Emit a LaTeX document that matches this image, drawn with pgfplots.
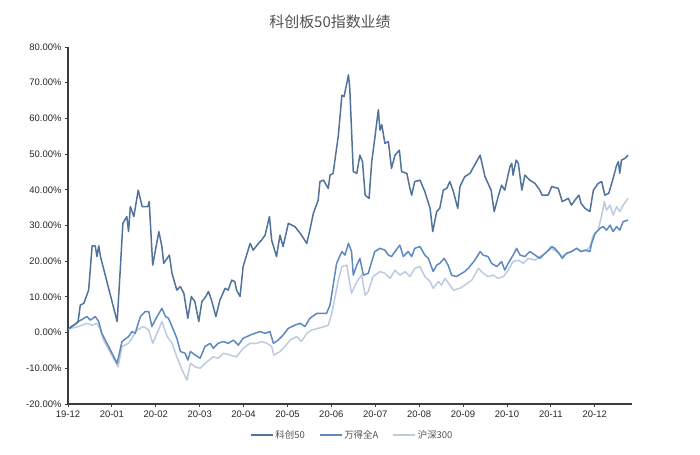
\documentclass[border=0pt]{standalone}
\usepackage{pgfplots}
\pgfplotsset{compat=1.18}
\usepackage{fontspec}
\setmainfont{Liberation Sans}
\newfontfamily\cjk{Noto Sans CJK SC}
\definecolor{kc}{HTML}{51729A}
\definecolor{wd}{HTML}{5D89BE}
\definecolor{hs}{HTML}{BCCBDF}
\definecolor{axc}{HTML}{3C3C3C}
\definecolor{txt}{HTML}{505050}
\begin{document}
\begin{tikzpicture}
\path[use as bounding box] (0,0) rectangle (700bp,455bp);
\node[font=\cjk\fontsize{15}{18}\selectfont, text=txt] at (330bp,433bp) {科创板50指数业绩};
\begin{axis}[
  at={(68bp,51bp)}, anchor=south west,
  scale only axis, width=564bp, height=357bp,
  xmin=0, xmax=12.85, ymin=-20, ymax=80,
  axis x line*=bottom, axis y line*=left,
  axis line style={line width=1.6bp, color=axc},
  xtick={0,1,2,3,4,5,6,7,8,9,10,11,12},
  xticklabels={19-12,20-01,20-02,20-03,20-04,20-05,20-06,20-07,20-08,20-09,20-10,20-11,20-12},
  ytick={-20,-10,0,10,20,30,40,50,60,70,80},
  yticklabel style={/pgf/number format/.cd, fixed, fixed zerofill, precision=2},
  yticklabel={\pgfmathprintnumber{\tick}\%},
  /pgf/number format/assume math mode=true,
  tick style={color=axc, line width=0.8bp},
  tick align=outside, major tick length=3bp,
  tick label style={font=\fontsize{9.5}{11}\selectfont, text=black!85},
  reverse legend,
  legend style={at={(0.504,-0.087)}, anchor=center, legend columns=3, draw=none, fill=none,
    font=\cjk\fontsize{9.5}{11}\selectfont, text=txt,
    /tikz/every even column/.append style={column sep=12bp}},
  legend image code/.code={\draw[#1, line width=1.4bp] (0bp,0bp) -- (22bp,0bp);},
  every axis plot/.append style={line width=1.5bp, line join=round},
]
\addplot[hs] coordinates {
(0,1.0)(0.24,1.7)(0.43,2.6)(0.55,2.1)(0.66,2.6)(0.74,0.7)(0.81,-2.1)(1.14,-9.6)(1.23,-3.9)(1.38,-3.0)
(1.50,-0.7)(1.57,0.7)(1.72,1.7)(1.84,0.7)(1.93,-3.0)(2.03,-0.2)(2.14,3.1)(2.26,-1.1)(2.37,-3.0)(2.48,-6.8)
(2.60,-10.5)(2.71,-13.3)(2.79,-8.6)(2.90,-9.6)(3.01,-10.0)(3.16,-8.2)(3.31,-6.8)(3.42,-7.2)(3.54,-5.8)(3.69,-6.3)
(3.84,-6.8)(3.99,-4.4)(4.15,-3.0)(4.30,-3.0)(4.41,-2.5)(4.53,-3.0)(4.64,-3.9)(4.69,-6.3)(4.83,-5.3)(4.94,-3.9)
(5.06,-2.1)(5.21,-1.1)(5.32,-2.5)(5.44,-0.2)(5.55,0.7)(5.70,1.2)(5.85,1.7)(5.93,2.1)(6.01,5.4)(6.16,14.7)
(6.24,18.5)(6.35,18.9)(6.46,11.0)(6.58,14.3)(6.69,16.1)(6.77,10.5)(6.84,11.5)(6.95,15.7)(7.11,17.1)(7.22,16.6)
(7.34,15.2)(7.45,17.5)(7.56,16.1)(7.68,17.1)(7.79,15.7)(7.90,18.0)(8.02,18.5)(8.13,15.7)(8.25,14.3)(8.32,12.4)
(8.44,14.3)(8.51,13.3)(8.59,15.2)(8.70,13.3)(8.78,11.9)(8.93,12.4)(9.04,13.3)(9.20,14.7)(9.35,18.0)(9.46,16.6)
(9.57,15.7)(9.69,16.1)(9.80,15.2)(9.92,15.7)(10.03,17.5)(10.14,19.9)(10.26,20.3)(10.37,19.4)(10.49,20.8)(10.64,20.3)
(10.75,21.3)(10.87,22.2)(11.02,23.6)(11.13,22.7)(11.25,21.3)(11.36,22.2)(11.47,22.7)(11.59,23.6)(11.70,22.7)(11.82,23.1)
(11.89,24.1)(11.97,27.3)(12.08,28.7)(12.16,32.9)(12.22,36.7)(12.27,34.3)(12.35,35.7)(12.42,32.9)(12.50,35.3)(12.57,33.9)
(12.65,35.7)(12.76,37.6)
};
\addplot[wd] coordinates {
(0,1.0)(0.17,2.4)(0.24,3.1)(0.43,4.5)(0.51,3.5)(0.62,4.5)(0.70,3.1)(0.77,-0.2)(1.12,-8.6)(1.23,-2.5)
(1.38,-1.1)(1.46,0.3)(1.53,-0.2)(1.65,4.5)(1.76,5.9)(1.84,5.9)(1.91,1.7)(2.03,4.5)(2.14,6.8)(2.22,4.5)
(2.29,4.0)(2.37,1.7)(2.48,-1.6)(2.56,-5.3)(2.67,-5.8)(2.73,-7.7)(2.79,-5.3)(2.90,-6.3)(3.01,-7.2)(3.12,-3.9)
(3.24,-3.0)(3.31,-4.4)(3.42,-3.0)(3.54,-2.5)(3.65,-3.0)(3.77,-2.1)(3.88,-3.5)(3.99,-1.6)(4.15,-0.7)(4.26,-0.2)
(4.37,0.3)(4.49,-0.2)(4.60,0.3)(4.68,-3.0)(4.79,-2.1)(4.90,-0.7)(5.02,1.2)(5.17,2.1)(5.29,2.6)(5.40,1.7)
(5.51,4.0)(5.67,5.4)(5.78,5.4)(5.89,5.4)(5.97,7.7)(6.12,19.4)(6.24,22.7)(6.31,21.7)(6.39,25.0)(6.46,22.7)
(6.50,16.1)(6.58,18.9)(6.65,20.8)(6.73,16.1)(6.84,16.6)(6.92,19.9)(6.99,22.7)(7.11,23.6)(7.22,23.1)(7.30,21.7)
(7.37,21.3)(7.45,22.7)(7.56,24.5)(7.64,21.3)(7.75,22.7)(7.83,21.3)(7.90,23.6)(8.02,24.1)(8.13,21.7)(8.21,20.8)
(8.32,17.1)(8.40,18.9)(8.47,19.4)(8.57,20.8)(8.66,18.9)(8.74,16.1)(8.85,15.7)(9.04,17.1)(9.12,18.0)(9.27,20.3)
(9.39,22.7)(9.46,21.7)(9.57,21.3)(9.65,19.4)(9.77,18.5)(9.88,19.9)(9.95,17.5)(10.03,19.4)(10.14,21.7)(10.22,23.6)
(10.30,21.7)(10.41,21.3)(10.52,22.7)(10.64,21.7)(10.75,20.8)(10.87,22.2)(11.02,24.1)(11.09,23.6)(11.19,22.2)(11.26,20.8)
(11.36,22.2)(11.47,22.7)(11.59,23.6)(11.69,22.7)(11.78,23.1)(11.89,22.7)(11.93,25.0)(12.01,27.8)(12.12,29.2)(12.19,29.7)
(12.27,28.7)(12.35,30.1)(12.42,28.3)(12.50,29.7)(12.57,28.7)(12.65,31.1)(12.76,31.5)
};
\addplot[kc] coordinates {
(0,1.0)(0.17,2.4)(0.23,3.1)(0.28,7.7)(0.36,8.2)(0.43,10.5)(0.47,11.9)(0.55,24.3)(0.62,24.3)(0.66,21.3)
(0.70,24.3)(0.74,21.3)(1.12,3.1)(1.19,17.5)(1.25,30.6)(1.34,32.5)(1.38,28.3)(1.42,35.3)(1.50,32.5)(1.60,39.9)
(1.69,35.3)(1.82,35.3)(1.85,36.7)(1.93,18.9)(2.07,28.3)(2.14,24.1)(2.18,19.4)(2.31,21.7)(2.37,16.6)(2.48,11.9)
(2.56,12.9)(2.64,11.0)(2.73,4.0)(2.81,10.1)(2.89,8.7)(2.98,3.1)(3.05,8.7)(3.14,10.1)(3.20,11.5)(3.27,9.1)
(3.37,4.5)(3.46,9.1)(3.58,12.4)(3.65,11.9)(3.73,14.7)(3.80,14.3)(3.84,11.9)(3.92,10.1)(3.99,18.5)(4.15,25.0)
(4.22,23.1)(4.34,25.0)(4.41,25.9)(4.49,27.3)(4.59,32.5)(4.64,25.9)(4.75,21.3)(4.83,27.3)(4.90,24.1)(5.02,30.6)
(5.17,29.7)(5.29,27.8)(5.44,25.0)(5.51,28.7)(5.59,33.4)(5.70,37.1)(5.74,42.3)(5.82,42.7)(5.93,40.4)(5.97,44.1)
(6.04,44.6)(6.16,55.3)(6.24,66.5)(6.29,66.1)(6.39,72.2)(6.42,68.4)(6.50,45.1)(6.58,44.6)(6.65,49.7)(6.71,47.9)
(6.77,38.5)(6.86,37.6)(6.92,47.9)(6.99,54.4)(7.07,62.4)(7.11,56.7)(7.15,58.2)(7.22,53.0)(7.30,53.5)(7.37,46.0)
(7.45,49.7)(7.55,51.1)(7.60,45.1)(7.72,44.6)(7.79,40.4)(7.83,38.5)(7.90,42.3)(8.02,42.7)(8.13,39.5)(8.25,34.8)
(8.31,28.3)(8.40,33.9)(8.47,34.8)(8.55,39.9)(8.63,40.4)(8.70,42.3)(8.78,39.5)(8.88,34.8)(8.93,40.9)(9.04,43.7)
(9.16,44.6)(9.39,49.7)(9.50,43.7)(9.57,41.8)(9.64,39.9)(9.71,33.9)(9.80,38.1)(9.88,41.3)(9.95,39.9)(10.07,46.5)
(10.11,47.4)(10.14,44.1)(10.21,48.3)(10.26,47.4)(10.34,39.9)(10.41,44.1)(10.52,42.7)(10.64,41.8)(10.75,39.9)(10.80,38.5)
(10.94,38.5)(11.02,40.9)(11.17,40.4)(11.26,36.7)(11.40,37.6)(11.47,35.7)(11.55,37.1)(11.64,38.5)(11.69,36.2)(11.78,34.8)
(11.89,33.9)(11.97,39.9)(12.08,41.8)(12.16,42.3)(12.23,38.5)(12.32,39.0)(12.42,43.2)(12.50,46.9)(12.54,47.9)(12.57,44.6)
(12.61,48.3)(12.69,48.8)(12.76,49.7)
};
\legend{沪深300,万得全A,科创50}
\end{axis}
\end{tikzpicture}
\end{document}
